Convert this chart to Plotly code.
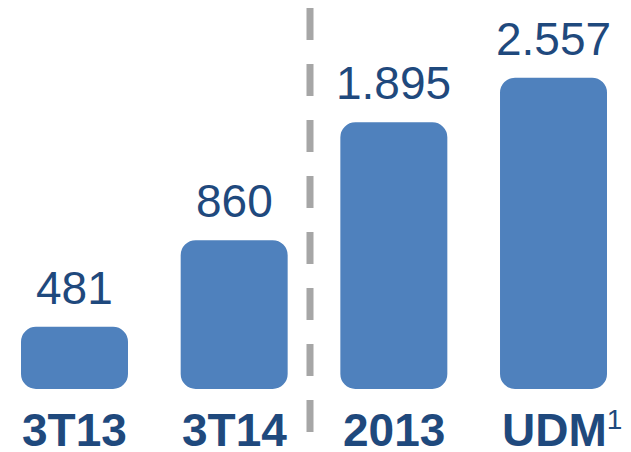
import math
import plotly.graph_objects as go

categories = ["3T13", "3T14", "2013", "UDM"]
values = [481, 860, 1895, 2557]
footnote = "1"

BAR = "#4F81BD"
TXT = "#1F497D"
FONT = "Liberation Sans, Arial, sans-serif"

lo = 10 ** 2.501          # visual baseline of the bars (log axis)

fig = go.Figure()
fig.add_trace(go.Bar(
    x=list(range(len(categories))), base=[lo] * len(values), y=[v - lo for v in values],
    width=0.67, marker=dict(color=BAR, line=dict(width=0), cornerradius=15),
    hoverinfo="skip", showlegend=False))

for i, v in enumerate(values):
    fig.add_annotation(x=i, y=math.log10(v), yref="y",
                       text=f"{v:,}".replace(",", "."),
                       showarrow=False, yanchor="bottom", yshift=11,
                       font=dict(family=FONT, size=46, color=TXT))

for i, c in enumerate(categories):
    if i < len(categories) - 1:
        txt, xs = f"<b>{c}</b>", 0
    else:
        txt, xs = f"<b>{c}</b><span style='font-size:40px'><sup>{footnote}</sup></span>", 8
    fig.add_annotation(x=i, y=0, yref="paper", text=txt,
                       showarrow=False, yanchor="bottom", yshift=-6, xshift=xs,
                       font=dict(family=FONT, size=46, color=TXT))

fig.add_shape(type="line", xref="paper", yref="paper",
              x0=302 / 623, x1=302 / 623, y0=1, y1=1 - 424 / 444,
              line=dict(color="#A6A6A6", width=7, dash="32px,24px"))

fig.update_layout(
    width=623, height=444, margin=dict(l=0, r=0, t=0, b=0),
    paper_bgcolor="white", plot_bgcolor="white",
    xaxis=dict(range=[-0.4165, 3.4853], visible=False),
    yaxis=dict(type="log", range=[2.3175, 3.6105], visible=False),
)
fig.write_html("out.html")
